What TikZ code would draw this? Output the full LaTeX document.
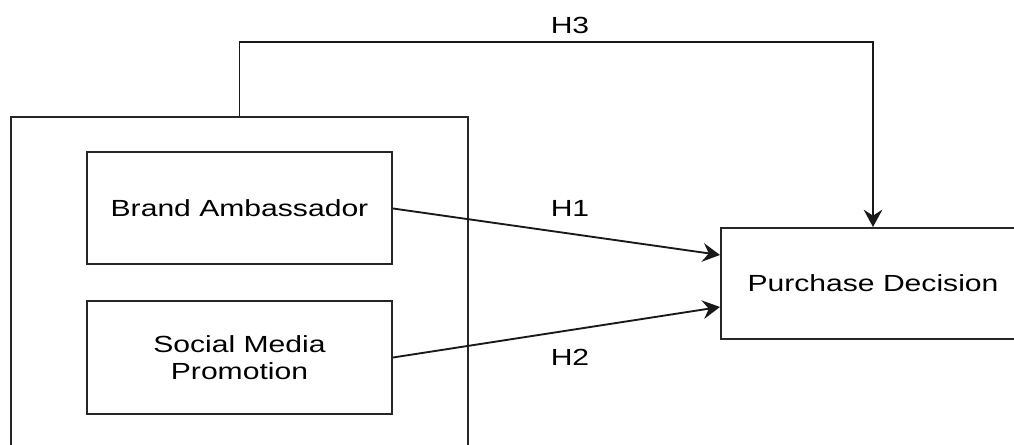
\documentclass[tikz,border=0pt]{standalone}
\usepackage{fontspec}
\setmainfont{Liberation Sans}[FakeStretch=1.29]
\usetikzlibrary{arrows.meta}
\tikzset{
  box/.style={draw=black!85, line width=1.5pt, fill=white, inner sep=0pt, align=center,
              font=\fontsize{17.5}{20}\selectfont},
  conn/.style={draw=black!90, line width=1.4pt, -{Stealth[length=13pt,width=14pt,inset=4.5pt]}},
  lbl/.style={font=\fontsize{17.5}{20}\selectfont, inner sep=0pt}
}
\begin{document}
\begin{tikzpicture}[x=0.75pt,y=-0.75pt]
\useasboundingbox (0,0) rectangle (1014,445);
\clip (0,0) rectangle (1014,445);
\fill[white] (0,0) rectangle (1014,445);
\node[box, anchor=north, minimum width=457*0.75pt, minimum height=360*0.75pt] (group) at (239.5,116) {};
\node[box, minimum width=305*0.75pt, minimum height=112*0.75pt] (ba) at (239.5,208.5) {Brand Ambassador};
\node[box, minimum width=305*0.75pt, minimum height=112*0.75pt] (sm) at (239.5,357.5) {Social Media\\Promotion};
\node[box, minimum width=304*0.75pt, minimum height=111*0.75pt] (pd) at (873,283.5) {Purchase Decision};
\draw[conn] (ba.east) -- ([yshift=21.4pt]pd.west);
\draw[conn] (sm.east) -- ([yshift=-17.6pt]pd.west);
\draw[conn] (group.north) -- ++(0,-74) coordinate (top) -| (pd.north);
\node[lbl] (h3) at (570,25) {H3};
\node[lbl] (h1) at (570,208) {H1};
\node[lbl] (h2) at (570,357) {H2};
\end{tikzpicture}
\end{document}
